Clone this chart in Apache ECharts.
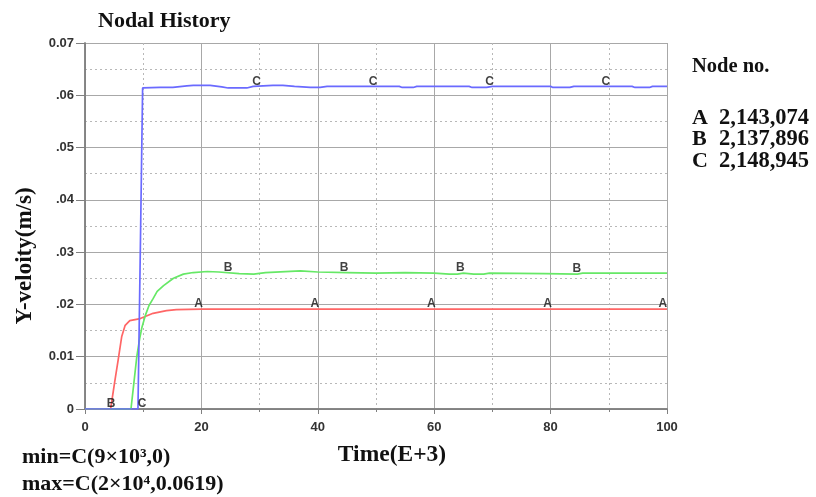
<!DOCTYPE html>
<html>
<head>
<meta charset="utf-8">
<title>Nodal History</title>
<script src="https://cdn.jsdelivr.net/npm/echarts@6/dist/echarts.min.js"></script>
<style>
    html, body { margin: 0; padding: 0; background: #fff; }
    #echart { width: 816px; height: 497px; }
</style>
</head>
<body>
<div id="echart"></div>
<script>
// ====================== 数据 ======================
// 节点 A (红)
var curveA = [
    [0, 0], [4.4, 0], [5.15, 0.0055], [5.7, 0.0094], [6.3, 0.0138], [6.9, 0.016],
    [7.7, 0.0169], [9.5, 0.0173], [11.7, 0.0183], [14, 0.0188], [15.7, 0.019],
    [20, 0.0191], [100, 0.0191]
];
// 节点 B (绿)
var curveB = [
    [0, 0], [7.9, 0], [8.4, 0.005], [8.9, 0.010], [9.4, 0.0135], [9.8, 0.0157],
    [10.4, 0.018], [11.0, 0.0198], [11.7, 0.0211], [12.4, 0.0225], [13.5, 0.0236],
    [15.2, 0.025], [16.9, 0.0258], [18.6, 0.0261], [21, 0.0263], [23, 0.0262],
    [26.5, 0.0259], [29, 0.0258], [31, 0.0261], [37, 0.0264], [40, 0.0262],
    [45, 0.0261], [50, 0.026], [55, 0.0261], [60, 0.026], [62.6, 0.0258],
    [64, 0.0258], [65, 0.026], [66.8, 0.0258], [68.5, 0.0258], [69.5, 0.026],
    [79, 0.0259], [84.6, 0.0258], [85.5, 0.026], [100, 0.026]
];
// 节点 C (蓝)
var curveC = [
    [0, 0], [9.1, 0], [9.5, 0.03], [9.9, 0.0614], [10.2, 0.0616], [12.9, 0.0615],
    [15.1, 0.0615], [17.5, 0.0618], [18.6, 0.0619], [21.5, 0.0619], [23.5, 0.0616],
    [24.6, 0.0614], [27.8, 0.0614], [28.9, 0.0617], [32.3, 0.0619], [34, 0.0619],
    [36, 0.0617], [38.7, 0.0615], [40.4, 0.0615], [41.6, 0.0617], [54, 0.0617],
    [54.5, 0.0615], [56.4, 0.0615], [57, 0.0617], [66, 0.0617], [66.5, 0.0615],
    [69, 0.0615], [70, 0.0617], [80, 0.0617], [80.4, 0.0615], [83.3, 0.0615],
    [84, 0.0617], [94, 0.0617], [94.5, 0.0615], [97, 0.0615], [97.5, 0.0617],
    [100, 0.0617]
];
// 曲线上的字母标记
var marksA = [[19.5, 0.0191], [39.5, 0.0191], [59.5, 0.0191], [79.5, 0.0191], [99.3, 0.0191]];
var marksB = [[4.5, 0], [24.6, 0.026], [44.5, 0.0261], [64.5, 0.026], [84.5, 0.0259]];
var marksC = [[9.8, 0], [29.5, 0.0617], [49.5, 0.0617], [69.5, 0.0617], [89.5, 0.0617]];

// 刻度文字
var yTickLabels = ['0', '0.01', '.02', '.03', '.04', '.05', '.06', '0.07'];
var xTickLabels = ['0', '20', '40', '60', '80', '100'];

// 节点编号
var nodeNames = ['A', 'B', 'C'];
var nodeNos = ['2,143,074', '2,137,896', '2,148,945'];

var colors = ['#ff6666', '#66e866', '#6a6aff'];
var serif = '"Liberation Serif", "Times New Roman", serif';
var sans = '"Liberation Sans", Arial, sans-serif';

function lineSeries(name, data, color) {
    return {
        name: name,
        type: 'line',
        data: data,
        showSymbol: false,
        symbol: 'none',
        silent: true,
        lineStyle: { color: color, width: 1.7 },
        z: 3
    };
}

function markSeries(letter, data) {
    return {
        type: 'scatter',
        data: data,
        symbolSize: 0,
        silent: true,
        z: 5,
        label: {
            show: true,
            position: 'inside',
            offset: [0, -5],
            formatter: letter,
            color: '#111',
            fontFamily: sans,
            fontWeight: 'bold',
            fontSize: 12
        }
    };
}

// ====================== 图表 ======================
var echart1 = echarts.init(document.getElementById('echart'));

var graphics = [
    { type: 'text', x: 98, y: 21, style: { text: 'Nodal History', font: 'bold 22px ' + serif, fill: '#111', verticalAlign: 'middle' } },
    { type: 'text', x: 25, y: 256, rotation: Math.PI / 2, style: { text: 'Y-veloity(m/s)', font: 'bold 23px ' + serif, fill: '#111', align: 'center', verticalAlign: 'middle' } },
    { type: 'text', x: 392, y: 455, style: { text: 'Time(E+3)', font: 'bold 23.5px ' + serif, fill: '#111', align: 'center', verticalAlign: 'middle' } },
    { type: 'text', x: 22, y: 457, style: { text: 'min=C(9×10³,0)', font: 'bold 22px ' + serif, fill: '#111', verticalAlign: 'middle' } },
    { type: 'text', x: 22, y: 484, style: { text: 'max=C(2×10⁴,0.0619)', font: 'bold 22px ' + serif, fill: '#111', verticalAlign: 'middle' } },
    { type: 'text', x: 692, y: 67, style: { text: 'Node no.', font: 'bold 20.5px ' + serif, fill: '#111', verticalAlign: 'middle' } }
];
nodeNames.forEach(function (n, i) {
    graphics.push({ type: 'text', x: 692, y: 118 + i * 21.5, style: { text: n, font: 'bold 22px ' + serif, fill: '#111', verticalAlign: 'middle' } });
    graphics.push({ type: 'text', x: 719, y: 118 + i * 21.5, style: { text: nodeNos[i], font: 'bold 22.5px ' + serif, fill: '#111', verticalAlign: 'middle' } });
});

var option = {
    animation: false,
    backgroundColor: '#fff',
    grid: { left: 85, right: 149, top: 43, bottom: 88 },
    xAxis: [{
        type: 'value',
        min: 0,
        max: 100,
        interval: 20,
        axisLine: { lineStyle: { color: '#808080', width: 1.5 } },
        axisTick: { show: true, length: 5, lineStyle: { color: '#808080' } },
        minorTick: { show: true, splitNumber: 2, length: 3, lineStyle: { color: '#808080' } },
        axisLabel: {
            margin: 12,
            color: '#333',
            fontFamily: sans,
            fontWeight: 'bold',
            fontSize: 13,
            formatter: function (v) { return xTickLabels[Math.round(v / 20)]; }
        },
        splitLine: { show: true, lineStyle: { color: '#a8a8a8', width: 1 } },
        minorSplitLine: { show: true, lineStyle: { color: '#b8b8b8', type: [2, 3], width: 1 } }
    }, {
        type: 'value',
        position: 'top',
        min: 0,
        max: 100,
        interval: 20,
        axisLine: { show: true, lineStyle: { color: '#808080', width: 1.5 } },
        axisTick: { show: false },
        axisLabel: { show: false },
        splitLine: { show: false }
    }],
    yAxis: [{
        type: 'value',
        min: 0,
        max: 0.07,
        interval: 0.01,
        axisLine: { show: true, lineStyle: { color: '#808080', width: 1.5 } },
        axisTick: { show: true, length: 9, lineStyle: { color: '#808080' } },
        axisLabel: {
            margin: 11,
            color: '#333',
            fontFamily: sans,
            fontWeight: 'bold',
            fontSize: 13,
            formatter: function (v) { return yTickLabels[Math.round(v * 100)]; }
        },
        splitLine: { show: true, lineStyle: { color: '#a8a8a8', width: 1 } },
        minorTick: { show: false, splitNumber: 2 },
        minorSplitLine: { show: true, lineStyle: { color: '#b8b8b8', type: [2, 3], width: 1 } }
    }, {
        type: 'value',
        position: 'right',
        min: 0,
        max: 0.07,
        interval: 0.01,
        axisLine: { show: true, lineStyle: { color: '#808080', width: 1.5 } },
        axisTick: { show: true, inside: true, length: 4, lineStyle: { color: '#808080' } },
        axisLabel: { show: false },
        splitLine: { show: false }
    }],
    series: [
        lineSeries('A', curveA, colors[0]),
        lineSeries('B', curveB, colors[1]),
        lineSeries('C', curveC, colors[2]),
        markSeries('A', marksA),
        markSeries('B', marksB),
        markSeries('C', marksC)
    ],
    graphic: graphics
};
echart1.setOption(option);
</script>
</body>
</html>
